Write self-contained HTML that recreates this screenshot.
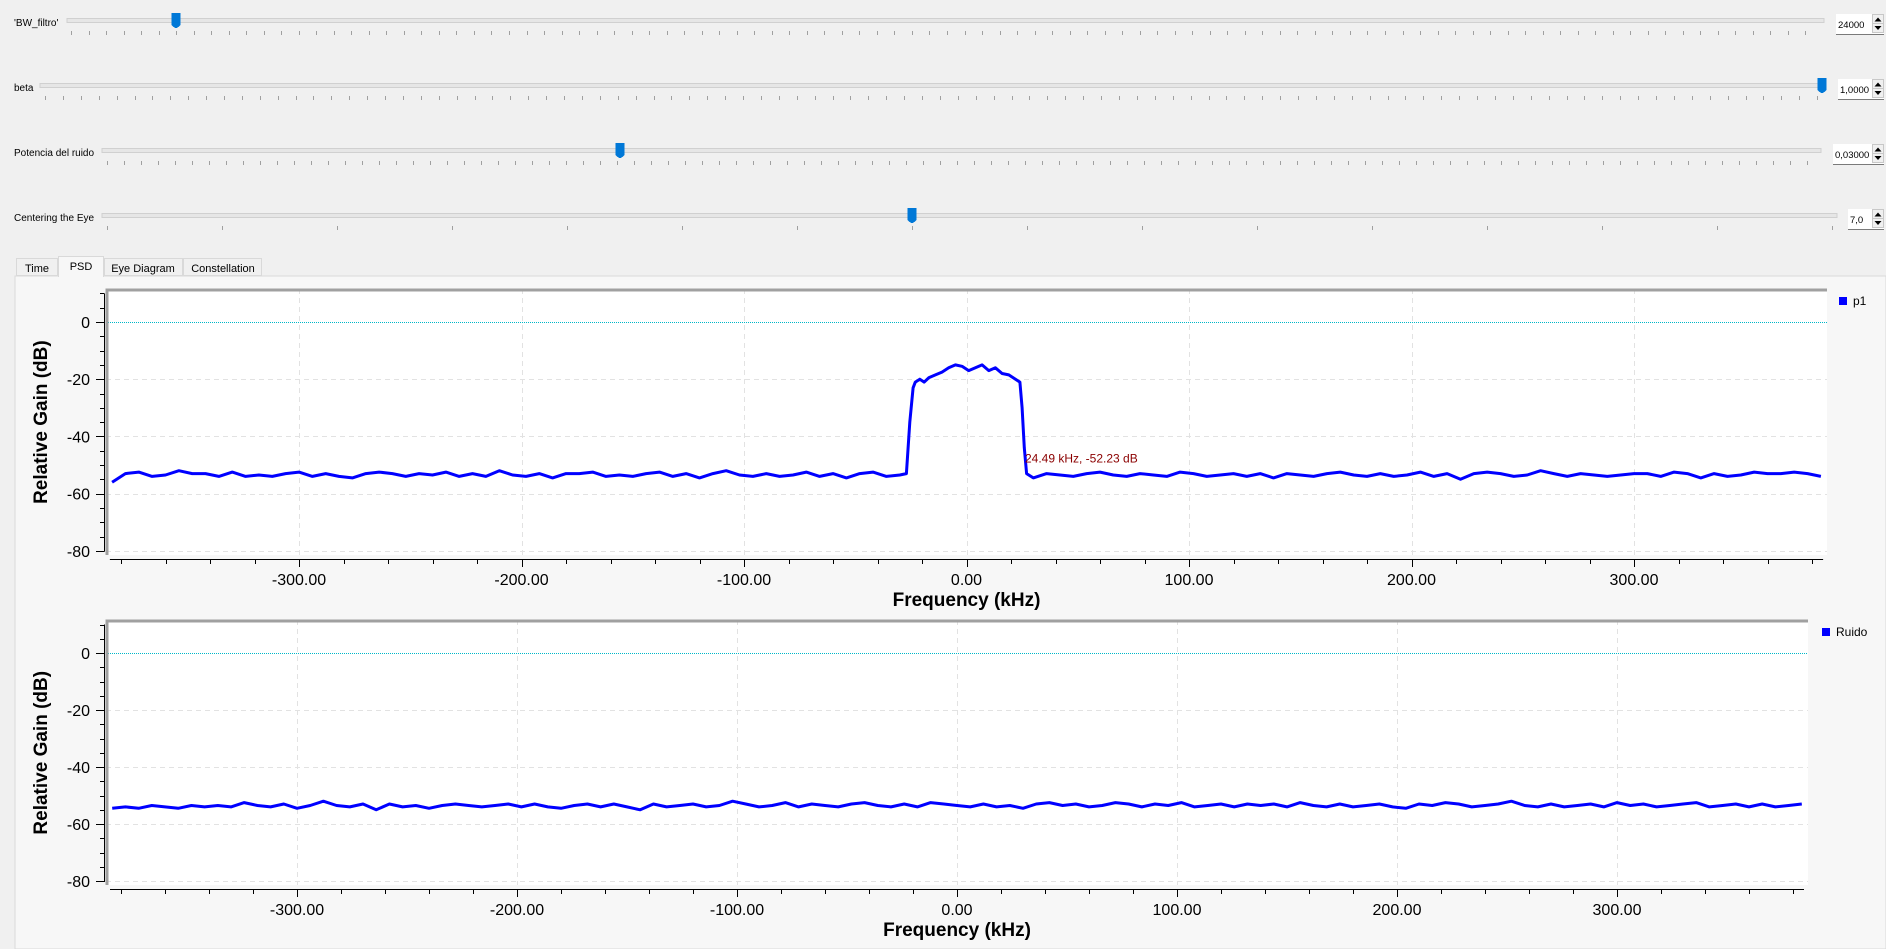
<!DOCTYPE html>
<html><head><meta charset="utf-8">
<style>
html,body{margin:0;padding:0;background:#f0f0f0;width:1886px;height:949px;overflow:hidden;font-family:"Liberation Sans",sans-serif;}
svg{display:block}
</style></head>
<body>
<svg id="root" width="1886" height="949" xmlns="http://www.w3.org/2000/svg">
  <rect x="0" y="0" width="1886" height="949" fill="#f0f0f0"/>
  <g id="sliders"></g>
  <g>
    <rect x="15" y="276" width="1871" height="673" fill="#f7f7f7" stroke="#dadada"/>
    <g><rect x="16.5" y="258.5" width="41" height="17" fill="#f0f0f0" stroke="#d9d9d9"/><text x="37" y="272" font-size="11" text-anchor="middle" fill="#000">Time</text></g>
    <g><rect x="58.5" y="256.5" width="45" height="20" fill="#f7f7f7" stroke="#d9d9d9"/><rect x="59" y="274" width="44" height="4" fill="#f7f7f7"/><text x="81" y="270" font-size="11" text-anchor="middle" fill="#000">PSD</text></g>
    <g><rect x="104.5" y="258.5" width="78" height="17" fill="#f0f0f0" stroke="#d9d9d9"/><text x="143" y="272" font-size="11" text-anchor="middle" fill="#000">Eye Diagram</text></g>
    <g><rect x="183.5" y="258.5" width="78" height="17" fill="#f0f0f0" stroke="#d9d9d9"/><text x="223" y="272" font-size="11" text-anchor="middle" fill="#000">Constellation</text></g>
  </g>
  <g id="chart1"></g>
  <g id="chart2"></g>
</svg>
<script>
const noiseStart = -384, noiseStep = 6;
const p1FreqLeft = [-384,-378,-372,-366,-360,-354,-348,-342,-336,-330,-324,-318,-312,-306,-300,-294,-288,-282,-276,-270,-264,-258,-252,-246,-240,-234,-228,-222,-216,-210,-204,-198,-192,-186,-180,-174,-168,-162,-156,-150,-144,-138,-132,-126,-120,-114,-108,-102,-96,-90,-84,-78,-72,-66,-60,-54,-48,-42,-36,-30];
const p1ValLeft = [-56,-53,-52.5,-54,-53.5,-52,-53,-53,-54,-52.5,-54,-53.5,-54,-53,-52.5,-54,-53,-54,-54.5,-53,-52.5,-53,-54,-53,-53.5,-52.5,-54,-53,-54,-52,-53.5,-54,-53,-54.5,-53,-53,-52.5,-54,-53.5,-54,-53,-52.5,-54,-53,-54.5,-53,-52,-53.5,-54,-53,-54,-53.5,-52.5,-54,-53,-54.5,-53,-52.5,-54,-53.5];
const p1FreqBand = [-27,-25.5,-24,-23,-21,-19,-17,-14,-11,-8,-5,-2,1,4,7,10,13,16,19,22,24,25,26,27,30];
const p1ValBand = [-53,-35,-23,-21,-20,-21,-19.5,-18.5,-17.5,-16,-15,-15.5,-17,-16,-15,-17,-16,-18,-18.5,-20,-21,-30,-44,-53,-54.5];
const p1FreqRight = [36,42,48,54,60,66,72,78,84,90,96,102,108,114,120,126,132,138,144,150,156,162,168,174,180,186,192,198,204,210,216,222,228,234,240,246,252,258,264,270,276,282,288,294,300,306,312,318,324,330,336,342,348,354,360,366,372,378,384];
const p1ValRight = [-53,-53.5,-54,-53,-52.5,-53.5,-54,-53,-53.5,-54,-52.5,-53,-54,-53.5,-53,-54,-53,-54.5,-53,-53.5,-54,-53,-52.5,-53.5,-54,-53,-54,-53.5,-52.5,-54,-53,-55,-53,-52.5,-53,-54,-53.5,-52,-53,-54,-53,-53.5,-54,-53.5,-53,-53,-54,-52.5,-53,-54.5,-53,-54,-53.5,-52.5,-53,-53,-52.5,-53,-54];
const ruidoVals = [-54.5,-54,-54.5,-53.5,-54,-54.5,-53.5,-54,-53.5,-54,-52.5,-53.5,-54,-53,-54.5,-53.5,-52,-53.5,-54,-53,-55,-53,-54,-53.5,-54.5,-53.5,-53,-53.5,-54,-53.5,-53,-54,-53,-54,-54.5,-53.5,-53,-54,-53,-54,-55,-53,-54,-53.5,-53,-54,-53.5,-52,-53,-54,-53.5,-52.5,-54,-53,-53.5,-54,-53,-52.5,-53.5,-54,-53,-54,-52.5,-53,-53.5,-54,-53,-54,-53.5,-54.5,-53,-52.5,-53.5,-53,-54,-53.5,-52.5,-53,-54,-53,-53.5,-52.5,-54,-53.5,-53,-54,-53,-53.5,-53,-54,-52.5,-53.5,-54,-53,-54,-53.5,-53,-54,-54.5,-53,-53.5,-52.5,-53,-54,-53.5,-53,-52,-53.5,-54,-53,-54,-53.5,-53,-54,-52.5,-53.5,-53,-54,-53.5,-53,-52.5,-54,-53.5,-53,-54,-53,-54,-53.5,-53];
const xTickLabels = ["-300.00","-200.00","-100.00","0.00","100.00","200.00","300.00"];
const xTickValues = [-300,-200,-100,0,100,200,300];
const yTickValues = [0,-20,-40,-60,-80];
const cursorText = "24.49 kHz, -52.23 dB";
const cursorFreq = 24.49, cursorDb = -52.23;

const NS = "http://www.w3.org/2000/svg";
function mk(parent, tag, attrs, text){
  const e = document.createElementNS(NS, tag);
  for (const k in attrs) e.setAttribute(k, attrs[k]);
  if (text !== undefined) e.textContent = text;
  parent.appendChild(e);
  return e;
}

const sl = document.getElementById('sliders');
function slider(name, label, gx1, gx2, gy, tickX0, tickStep, tickEnd, handleX, spinX, spinVal){
  const g = mk(sl,'g',{});
  
  
  const t = mk(g,'text',{x:14,y:gy+6,'font-size':'10',fill:'#000'},label);
  
  
  const gr = mk(g,'rect',{x:gx1,y:gy-1.5,width:gx2-gx1,height:4,fill:'#e6e6e6',stroke:'#d0d0d0','stroke-width':1});
  
  
  for (let x = tickX0; x <= tickEnd + 0.5; x += tickStep){
    mk(g,'line',{x1:Math.round(x)+0.5,x2:Math.round(x)+0.5,y1:gy+11,y2:gy+15,stroke:'#a0a0a0'});
  }
  const h = mk(g,'path',{d:`M${handleX-4.5},${gy-7} h9 v12 l-2,2 h-1 v1 h-3 v-1 h-1 l-2,-2 z`,fill:'#0078d7'});
  
  
  const sp = mk(g,'g',{});
  
  
  mk(sp,'rect',{x:spinX,y:gy-6,width:1884-spinX,height:21,fill:'#fff'});
  mk(sp,'line',{x1:spinX,x2:1884,y1:gy+14.5,y2:gy+14.5,stroke:'#7a7a7a'});
  mk(sp,'text',{x:spinX+2,y:gy+8,'font-size':'9.5',fill:'#000'},spinVal);
  mk(sp,'rect',{x:1872.5,y:gy-5.5,width:11,height:9,fill:'#f0f0f0',stroke:'#c8c8c8'});
  mk(sp,'rect',{x:1872.5,y:gy+3.5,width:11,height:9,fill:'#f0f0f0',stroke:'#c8c8c8'});
  mk(sp,'path',{d:`M1874.5,${gy+1.5} l3.5,-4 l3.5,4 z`,fill:'#000'});
  mk(sp,'path',{d:`M1874.5,${gy+6} l3.5,4 l3.5,-4 z`,fill:'#000'});
}
slider('bw-filtro-slider',"'BW_filtro'",67,1824,20,71,17.52,1820,176,1836,'24000');
slider('beta-slider','beta',40,1826,85,45,17.9,1822,1822,1838,'1,0000');
slider('noise-power-slider','Potencia del ruido',102,1821,150,107,17.0,1817,620,1833,'0,03000');
slider('eye-centering-slider','Centering the Eye',102,1837,215,107,115,1832,912,1848,'7,0');

function chart(gid, cfg, series, legendLabel){
  const root = document.getElementById(gid);
  const xs = v => cfg.cx + v * cfg.kx;
  const ys = v => cfg.y0 + (-v) * cfg.ky;
  const yTop = ys(10);
  const pb = mk(root,'rect',{x:cfg.left,y:cfg.top,width:cfg.right-cfg.left,height:cfg.bottom-cfg.top,fill:'#fff'});
  
  
  const grid = mk(root,'g',{stroke:'#e2e2e2','stroke-dasharray':'5,4','stroke-width':1});
  
  
  xTickValues.forEach(v=>mk(grid,'line',{x1:Math.round(xs(v))+0.5,x2:Math.round(xs(v))+0.5,y1:cfg.top,y2:cfg.bottom}));
  yTickValues.forEach(v=>{ if(v!==0) mk(grid,'line',{x1:cfg.left,x2:cfg.right,y1:Math.round(ys(v))+0.5,y2:Math.round(ys(v))+0.5}); });
  const zl = mk(root,'line',{x1:cfg.left,x2:cfg.right,y1:Math.round(ys(0))+0.5,y2:Math.round(ys(0))+0.5,stroke:'#00b8c8','stroke-dasharray':'1,1','stroke-width':1});
  
  
  mk(root,'path',{d:`M${cfg.left+1},${cfg.bottom} V${cfg.top+1} H${cfg.right}`,fill:'none',stroke:'#a0a0a0','stroke-width':3});
  const ya = mk(root,'g',{});
  
  
  mk(ya,'line',{x1:104.5,x2:104.5,y1:yTop,y2:ys(-80)+1,stroke:'#000'});
  for (let v=10; v>=-80; v-=5){
    const y = Math.round(ys(v))+0.5;
    const major = v%20===0;
    mk(ya,'line',{x1:major?96:100,x2:104,y1:y,y2:y,stroke:'#000'});
  }
  yTickValues.forEach(v=>{
    const t = mk(ya,'text',{x:90,y:ys(v)+6,'font-size':'16','text-anchor':'end',fill:'#000'},String(v));
    
    
  });
  const yt = mk(root,'text',{x:0,y:0,'font-size':'19','font-weight':'bold','text-anchor':'middle',fill:'#000',transform:`translate(47,${ys(-35)}) rotate(-90)`},'Relative Gain (dB)');
  
  
  const xa = mk(root,'g',{});
  
  
  const ay = cfg.axisY;
  mk(xa,'line',{x1:xs(-385),x2:xs(385),y1:ay+0.5,y2:ay+0.5,stroke:'#000'});
  for (let v=-380; v<=380; v+=20){
    const x = Math.round(xs(v))+0.5;
    const major = v%100===0;
    mk(xa,'line',{x1:x,x2:x,y1:ay,y2:ay+(major?8:5),stroke:'#000'});
  }
  xTickValues.forEach((v,i)=>{
    const t = mk(xa,'text',{x:xs(v),y:ay+26,'font-size':'16','text-anchor':'middle',fill:'#000'},xTickLabels[i]);
    
    
  });
  const xt = mk(root,'text',{x:xs(0),y:ay+47,'font-size':'19','font-weight':'bold','text-anchor':'middle',fill:'#000'},'Frequency (kHz)');
  
  
  const d = series.f.map((f,i)=>(i?'L':'M')+xs(f).toFixed(1)+','+ys(series.v[i]).toFixed(1)).join(' ');
  const ln = mk(root,'path',{d:d,fill:'none',stroke:'#0000ff','stroke-width':3,'stroke-linejoin':'round'});
  
  
  const lg = mk(root,'g',{});
  
  
  mk(lg,'rect',{x:cfg.legX,y:cfg.top+8,width:8,height:8,fill:'#0000ff'});
  mk(lg,'text',{x:cfg.legX+14,y:cfg.top+16,'font-size':'12',fill:'#000'},legendLabel);
  return {xs,ys,root};
}

const p1F = p1FreqLeft.concat(p1FreqBand, p1FreqRight);
const p1V = p1ValLeft.concat(p1ValBand, p1ValRight);
const c1 = chart('chart1',{cx:966.5,kx:2.225,y0:322,ky:2.86,left:106,right:1827,top:289,bottom:555,axisY:559,legX:1839},{f:p1F,v:p1V},'p1');
const cur = mk(c1.root,'text',{x:c1.xs(cursorFreq)+4,y:c1.ys(cursorDb)-9,'font-size':'12',fill:'#8b0000'},cursorText);



const rF = ruidoVals.map((v,i)=>noiseStart + i*noiseStep);
chart('chart2',{cx:957,kx:2.2,y0:653,ky:2.85,left:106,right:1808,top:620,bottom:885,axisY:889,legX:1822},{f:rF,v:ruidoVals},'Ruido');
</script>
</body></html>
